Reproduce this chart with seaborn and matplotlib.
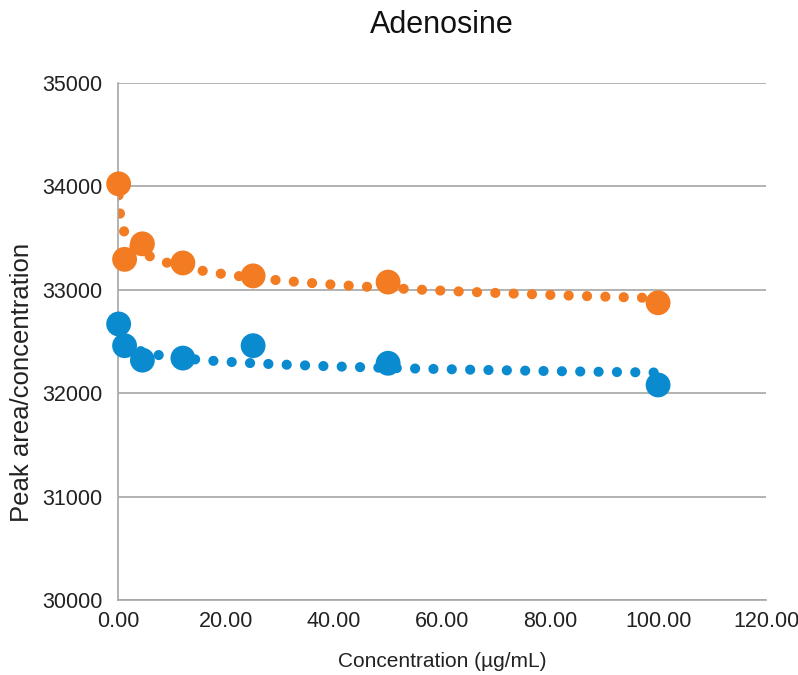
import numpy as np
import pandas as pd
import matplotlib
matplotlib.use("Agg")
import matplotlib.pyplot as plt
import seaborn as sns

# values
conc = [0.1, 1.2, 4.5, 12.0, 25.0, 50.0, 100.0]
orange_vals = [34025, 33295, 33445, 33260, 33135, 33075, 32875]
blue_vals = [32670, 32460, 32320, 32340, 32460, 32290, 32080]

orange = "#F37B21"
blue = "#0A8BD0"

sns.set_style("white")
plt.rcParams["font.family"] = ["Liberation Sans", "DejaVu Sans"]

df = pd.DataFrame({
    "conc": conc * 2,
    "value": orange_vals + blue_vals,
    "series": ["A"] * len(conc) + ["B"] * len(conc),
})

fig = plt.figure(figsize=(7.98, 6.75), dpi=100)
ax = fig.add_axes([0.148, 0.111, 0.812, 0.766])

# power trendlines (excel style), fitted from the points
xs = np.linspace(min(conc), max(conc), 400)
for vals, col in [(orange_vals, orange), (blue_vals, blue)]:
    b, a = np.polyfit(np.log(conc), np.log(vals), 1)
    ax.plot(xs, np.exp(a) * xs ** b, color=col, lw=7.3,
            linestyle=(0, (0.01, 1.8)), dash_capstyle="round", zorder=2)

sns.scatterplot(data=df, x="conc", y="value", hue="series",
                palette={"A": orange, "B": blue}, s=320, linewidth=0,
                legend=False, ax=ax, zorder=3, clip_on=False)

ax.set_xlim(0, 120)
ax.set_ylim(30000, 35000)
ax.set_xticks(np.arange(0, 121, 20))
ax.set_xticklabels([f"{v:.2f}" for v in np.arange(0, 121, 20)])
ax.set_yticks(np.arange(30000, 35001, 1000))
ax.yaxis.grid(True, color="#A6A6A6", lw=1.2)
ax.set_axisbelow(True)
for s in ["top", "right"]:
    ax.spines[s].set_visible(False)
for s in ["left", "bottom"]:
    ax.spines[s].set_color("#A6A6A6")
    ax.spines[s].set_linewidth(1.2)
ax.tick_params(axis="both", length=0, labelsize=15.5, colors="#222222", pad=8)
ax.tick_params(axis="y", pad=11)

ax.set_title("Adenosine", fontsize=22, pad=36, color="#111111")
ax.set_xlabel("Concentration (µg/mL)", fontsize=15, color="#222222")
ax.xaxis.set_label_coords(0.5, -0.1)
ax.set_ylabel("Peak area/concentration", fontsize=18.5, color="#222222")
ax.yaxis.set_label_coords(-0.13, 0.42)

plt.savefig("out.png", dpi=100)
